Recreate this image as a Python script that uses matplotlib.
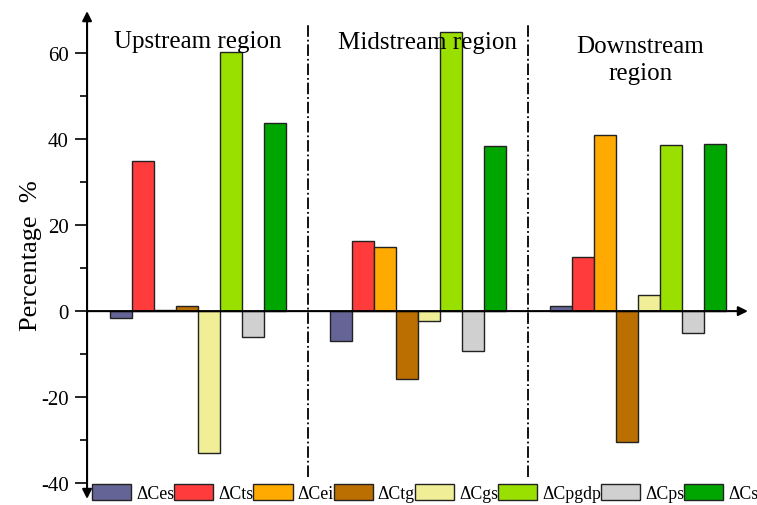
import matplotlib.pyplot as plt
import numpy as np

plt.rcParams['font.family'] = ['Liberation Serif', 'DejaVu Serif']
plt.rcParams['axes.unicode_minus'] = False

regions = ["Upstream region", "Midstream region", "Downstream\nregion"]
series = ["ΔCes", "ΔCts", "ΔCei", "ΔCtg", "ΔCgs", "ΔCpgdp", "ΔCps", "ΔCs"]
colors = ["#646496", "#FF3B3B", "#FFAA00", "#BB6F00", "#F0EE96", "#99E000", "#D0D0D0", "#00A600"]

# percentage values per region, in series order
upstream = [-1.7, 34.9, 0.3, 1.1, -33.0, 60.4, -6.0, 43.7]
midstream = [-7.0, 16.3, 14.9, -15.8, -2.3, 64.9, -9.3, 38.4]
downstream = [1.1, 12.6, 40.9, -30.5, 3.7, 38.6, -5.1, 38.8]
values = np.array([upstream, midstream, downstream])

fig = plt.figure(figsize=(7.57, 5.06), dpi=100)
ax = fig.add_axes([0.115, 0.012, 0.873, 0.964])

n = len(series)
gap = n + 2
for j, name in enumerate(series):
	x = np.arange(len(regions)) * gap + j
	ax.bar(x, values[:, j], width=1.0, color=colors[j], edgecolor='#222222',
		linewidth=1.0, label=name, zorder=2)

ax.set_xlim(-1.55, 28.5)
ax.set_ylim(-43.7, 69.8)

for s in ax.spines.values():
	s.set_visible(False)
ax.set_xticks([])
ax.set_yticks([-40, -20, 0, 20, 40, 60])
ax.set_yticks([-30, -10, 10, 30, 50], minor=True)
ax.tick_params(axis='y', which='major', length=9, width=1.2, labelsize=15, pad=4)
ax.tick_params(axis='y', which='minor', length=5, width=1.2)

# axis arrows
ax.annotate('', xy=(0, 1), xytext=(0, 0), xycoords='axes fraction',
	arrowprops=dict(arrowstyle='<|-|>', color='black', lw=1.5,
		shrinkA=0, shrinkB=0, mutation_scale=14))
ax.annotate('', xy=(1, 0), xytext=(0, 0), xycoords=('axes fraction', 'data'),
	arrowprops=dict(arrowstyle='-|>', color='black', lw=1.5,
		shrinkA=0, shrinkB=0, mutation_scale=14), zorder=3)

# region dividers
for i in range(1, len(regions)):
	xd = i * gap - 1.5
	ax.vlines(xd, -38.6, 66.7, colors='black', linestyles='dashdot', linewidth=1.3)

label_pos = [(3.5, 62.8), (13.95, 62.6), (23.6, 58.6)]
for (tx, ty), name in zip(label_pos, regions):
	ax.text(tx, ty, name, ha='center', va='center', fontsize=18, linespacing=1.3)

ax.set_ylabel("Percentage  %", fontsize=19)
ax.yaxis.set_label_coords(-0.068, 0.5)

ax.legend(loc='lower left', bbox_to_anchor=(92 / 757, 1 - 503 / 506),
	bbox_transform=fig.transFigure, ncol=n, frameon=False, fontsize=12.8,
	handlelength=2.2, handleheight=1.05, handletextpad=0.28, columnspacing=0.0,
	borderpad=0, borderaxespad=0)

fig.savefig("out.png", dpi=100)
